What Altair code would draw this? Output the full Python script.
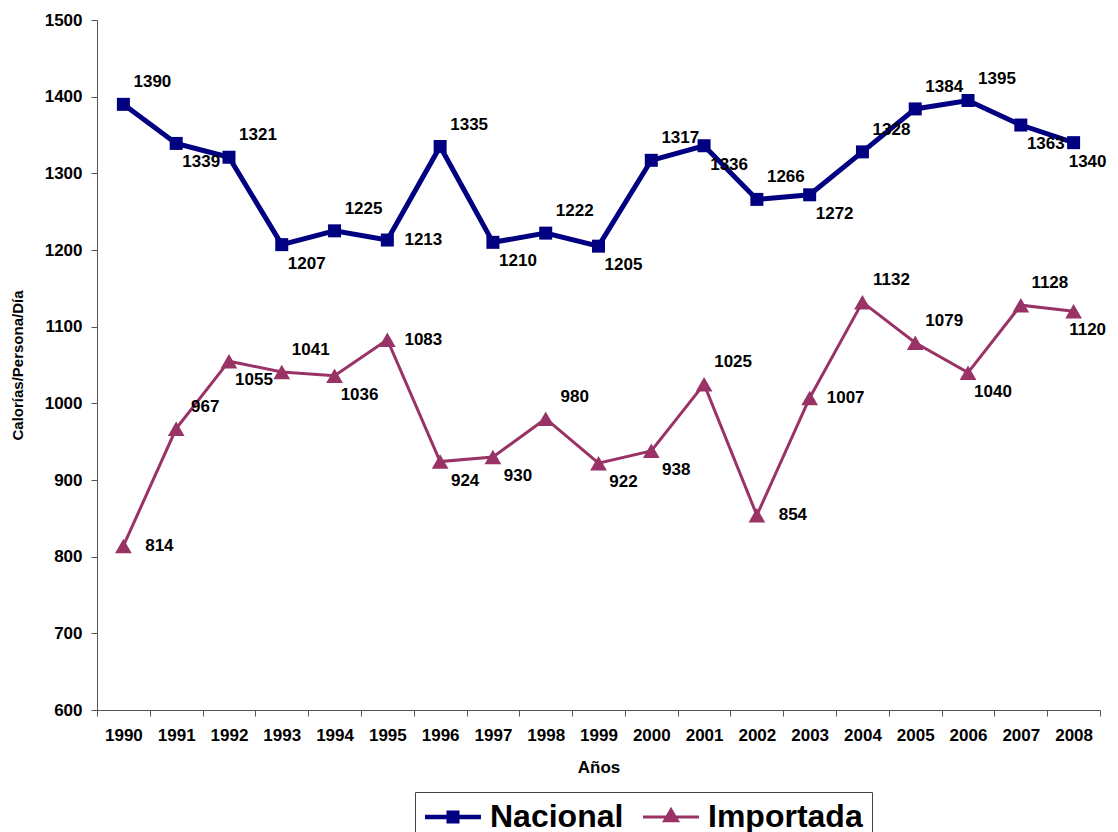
import altair as alt
import pandas as pd

years = [str(y) for y in range(1990, 2009)]
nacional = [1390, 1339, 1321, 1207, 1225, 1213, 1335, 1210, 1222, 1205,
            1317, 1336, 1266, 1272, 1328, 1384, 1395, 1363, 1340]
importada = [814, 967, 1055, 1041, 1036, 1083, 924, 930, 980, 922,
             938, 1025, 854, 1007, 1132, 1079, 1040, 1128, 1120]
series_names = ["Nacional", "Importada"]
# data-label placement: A = above-right, B = below-right, R = right, C = below-right (close)
nac_place = list("ABABARABABABABAAABC")
imp_place = list("RABABRBBABBARRAABAC")

NAVY = "#000080"
PLUM = "#993366"
FONT = "Liberation Sans"

rows = []
for y, v, p in zip(years, nacional, nac_place):
    rows.append({"year": y, "series": "Nacional", "value": v, "place": p})
for y, v, p in zip(years, importada, imp_place):
    rows.append({"year": y, "series": "Importada", "value": v, "place": p})
df = pd.DataFrame(rows)

x_enc = alt.X("year:O", sort=years,
              scale=alt.Scale(type="band", paddingInner=0, paddingOuter=0),
              axis=alt.Axis(title="Años", labelAngle=0, tickBand="extent",
                            labelPadding=11, titlePadding=16, titleFontSize=17))
y_enc = alt.Y("value:Q", scale=alt.Scale(domain=[600, 1500], nice=False, zero=False),
              axis=alt.Axis(title="Calorías/Persona/Día", values=list(range(600, 1501, 100)),
                            format="d", titleFontSize=15, titlePadding=19, labelPadding=9))

base = alt.Chart(df).encode(x=x_enc, y=y_enc)

line_n = base.transform_filter("datum.series == 'Nacional'").mark_line(color=NAVY, strokeWidth=5)
pts_n = base.transform_filter("datum.series == 'Nacional'").mark_point(
    shape="square", filled=True, size=169, color=NAVY, opacity=1)
line_i = base.transform_filter("datum.series == 'Importada'").mark_line(color=PLUM, strokeWidth=3)
pts_i = base.transform_filter("datum.series == 'Importada'").mark_point(
    shape="triangle-up", filled=True, size=280, color=PLUM, opacity=1)

txt_kw = dict(font=FONT, fontSize=17, fontWeight="bold", color="black",
              align="center", baseline="middle")
lab_a = base.transform_filter("datum.place == 'A'").mark_text(dx=29, dy=-22, **txt_kw).encode(text="value:Q")
lab_b = base.transform_filter("datum.place == 'B'").mark_text(dx=25, dy=19, **txt_kw).encode(text="value:Q")
lab_r = base.transform_filter("datum.place == 'R'").mark_text(dx=36, dy=0, **txt_kw).encode(text="value:Q")
lab_c = base.transform_filter("datum.place == 'C'").mark_text(dx=14, dy=19, **txt_kw).encode(text="value:Q")

# legend symbols: line segment with marker (unit = 15px)
path_n = "M-1,-0.15H2.73V0.15H-1Z M0.434,-0.433H1.3V0.433H0.434Z"
path_i = "M-1,-0.1H2.73V0.1H-1Z M0.867,-0.69L1.467,0.35H0.267Z"

leg = alt.Legend(title=None, orient="none", legendX=318, legendY=772,
                 direction="horizontal", labelFont=FONT, labelFontSize=32,
                 labelFontWeight="bold", labelColor="black", symbolSize=900,
                 labelOffset=34, columnPadding=18, padding=9, strokeColor="#444",
                 symbolStrokeWidth=0, labelLimit=400)

legend_layer = alt.Chart(df).transform_filter("false").mark_point(
    filled=True, size=900, opacity=1).encode(
    color=alt.Color("series:N", scale=alt.Scale(domain=series_names, range=[NAVY, PLUM]), legend=leg),
    shape=alt.Shape("series:N", scale=alt.Scale(domain=series_names, range=[path_n, path_i]), legend=leg),
)

chart = alt.layer(line_n, line_i, pts_n, pts_i, lab_a, lab_b, lab_r, lab_c, legend_layer).properties(
    width=1003, height=690,
    padding={"left": 89, "top": 12, "right": 10, "bottom": 130},
    autosize=alt.AutoSizeParams(type="none"),
).configure_view(stroke=None).configure_axis(
    labelFont=FONT, labelFontSize=17, labelFontWeight="bold", labelColor="black",
    titleFont=FONT, titleFontWeight="bold", titleColor="black",
    tickColor="#555", domainColor="#555", tickSize=6, grid=False,
)

chart.save("out.html", embed_options={"renderer": "svg", "actions": False})
